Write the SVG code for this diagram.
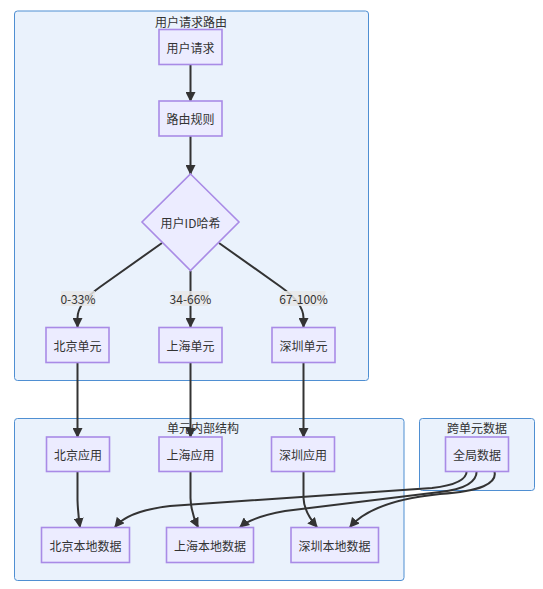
<svg xmlns="http://www.w3.org/2000/svg" width="543" height="589" viewBox="0 0 543 589">
<style>
text{font-family:"Noto Sans CJK SC","Liberation Sans",sans-serif;font-size:12px;fill:#333;text-anchor:middle;dominant-baseline:central}
.cl{fill:#EAF2FC;stroke:#4F8FD2;stroke-width:1}
.nd{fill:#ECECFF;stroke:#A98BE6;stroke-width:1.6}
.ed{fill:none;stroke:#333;stroke-width:2;marker-end:url(#ah)}
.lb{fill:#E8E8E8;fill-opacity:0.85}
</style>
<defs>
<marker id="ah" viewBox="0 0 10 10" refX="9" refY="5" markerWidth="5" markerHeight="5" markerUnits="strokeWidth" orient="auto">
<path d="M0,0 L10,5 L0,10 z" fill="#333"/>
</marker>
</defs>
<g id="cluster-routing">
<rect class="cl" x="14.5" y="11" width="354" height="369.5" rx="3"/>
<text x="191" y="21">用户请求路由</text>
</g>
<g id="cluster-internal">
<rect class="cl" x="14.5" y="418.5" width="389.5" height="162" rx="3"/>
<text x="203" y="427">单元内部结构</text>
</g>
<g id="cluster-cross">
<rect class="cl" x="419.5" y="418.5" width="115" height="72" rx="3"/>
<text x="477" y="427">跨单元数据</text>
</g>
<g id="edges">
<path class="ed" d="M190.5,64 L190.5,101"/>
<path class="ed" d="M190.5,136 L190.5,174"/>
<path class="ed" d="M162,243 L100,287 Q77.5,303 77.5,318 L77.5,327"/>
<path class="ed" d="M190.5,271 L190.5,327"/>
<path class="ed" d="M219,243 L281,287 Q303.5,303 303.5,318 L303.5,327"/>
<path class="ed" d="M77.5,362 L77.5,437"/>
<path class="ed" d="M190.5,362 L190.5,437"/>
<path class="ed" d="M303.5,362 L303.5,437"/>
<path class="ed" d="M77.5,471 L77.5,500 Q78,514 80,527"/>
<path class="ed" d="M190.5,471 L190.5,498 Q191,513 198,527"/>
<path class="ed" d="M303.5,471 L303.5,498 Q304,512 317,527"/>
<path class="ed" d="M466.7,471 Q466.7,484 432,488 L170,506 Q128,511 115,527"/>
<path class="ed" d="M476.7,471 Q476.7,488 440,492 L285,511 Q252,517 240,527"/>
<path class="ed" d="M494.3,471 Q500,490 440,494 Q372,501 350,527"/>
</g>
<g id="edge-labels">
<rect class="lb" x="61" y="291" width="34" height="15"/>
<text x="78" y="298.5">0-33%</text>
<rect class="lb" x="172.5" y="291" width="36" height="15"/>
<text x="190.5" y="298.5">34-66%</text>
<rect class="lb" x="281.5" y="291" width="44" height="15"/>
<text x="303.5" y="298.5">67-100%</text>
</g>
<g id="n-request"><rect class="nd" x="159" y="29.5" width="63" height="35"/><text x="190.5" y="47">用户请求</text></g>
<g id="n-rule"><rect class="nd" x="159" y="101" width="63" height="35"/><text x="190.5" y="118.5">路由规则</text></g>
<g id="n-hash"><polygon class="nd" points="190.5,174 239,222 190.5,270.5 142,222"/><text x="190.5" y="222">用户ID哈希</text></g>
<g id="n-bj-unit"><rect class="nd" x="46" y="327.5" width="63" height="35"/><text x="77.5" y="345">北京单元</text></g>
<g id="n-sh-unit"><rect class="nd" x="159" y="327.5" width="63" height="35"/><text x="190.5" y="345">上海单元</text></g>
<g id="n-sz-unit"><rect class="nd" x="272" y="327.5" width="63" height="35"/><text x="303.5" y="345">深圳单元</text></g>
<g id="n-bj-app"><rect class="nd" x="46.5" y="437" width="63" height="34.5"/><text x="78" y="454">北京应用</text></g>
<g id="n-sh-app"><rect class="nd" x="159" y="437" width="63" height="34.5"/><text x="190.5" y="454">上海应用</text></g>
<g id="n-sz-app"><rect class="nd" x="271.5" y="437" width="63" height="34.5"/><text x="303" y="454">深圳应用</text></g>
<g id="n-global"><rect class="nd" x="445.5" y="437" width="63" height="34.5"/><text x="477" y="454">全局数据</text></g>
<g id="n-bj-data"><rect class="nd" x="41.5" y="527.5" width="88" height="35"/><text x="85.5" y="545">北京本地数据</text></g>
<g id="n-sh-data"><rect class="nd" x="166.5" y="527.5" width="87" height="35"/><text x="210" y="545">上海本地数据</text></g>
<g id="n-sz-data"><rect class="nd" x="291" y="527.5" width="87.5" height="35"/><text x="334.5" y="545">深圳本地数据</text></g>
</svg>
